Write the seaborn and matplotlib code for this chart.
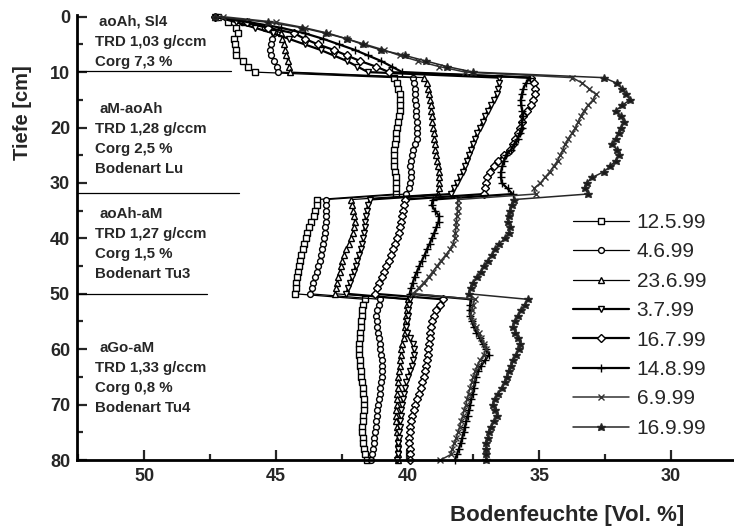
import numpy as np
import matplotlib.pyplot as plt
from matplotlib.ticker import MultipleLocator
import seaborn as sns

sns.set_style("white")
plt.rcParams['font.family'] = ['Liberation Sans', 'DejaVu Sans']

# depth in cm, one reading per cm
depth = list(range(81))

dates = ['12.5.99', '4.6.99', '23.6.99', '3.7.99', '16.7.99', '14.8.99', '6.9.99', '16.9.99']

# soil moisture [Vol. %], layers 0-10 / 11-32 / 33-50 / 51-80 cm
m_12_5 = ([47.2, 46.8, 46.5, 46.45, 46.6, 46.55, 46.5, 46.5, 46.25, 46.05, 45.8] +
          [40.5, 40.4, 40.35, 40.3, 40.27, 40.27, 40.3, 40.33, 40.37, 40.4, 40.42, 40.45, 40.48, 40.5, 40.5,
           40.5, 40.5, 40.47, 40.45, 40.43, 40.43, 40.43] +
          [43.43, 43.45, 43.5, 43.56, 43.65, 43.74, 43.8, 43.86, 43.92, 43.98, 44.04, 44.08, 44.13, 44.17,
           44.2, 44.22, 44.25, 44.28] +
          [41.63, 41.68, 41.71, 41.74, 41.76, 41.77, 41.79, 41.81, 41.83, 41.85, 41.84, 41.82, 41.8, 41.78,
           41.75, 41.73, 41.7, 41.68, 41.65, 41.65, 41.65, 41.67, 41.69, 41.71, 41.72, 41.7, 41.68, 41.64,
           41.6, 41.55])
m_4_6 = ([47.3, 46.3, 45.4, 45.05, 45.15, 45.2, 45.23, 45.2, 45.05, 44.95, 44.9] +
         [39.8, 39.76, 39.73, 39.71, 39.7, 39.68, 39.67, 39.66, 39.64, 39.62, 39.63, 39.65, 39.72, 39.8, 39.84,
          39.87, 39.89, 39.88, 39.86, 39.89, 39.94, 40.05] +
         [43.08, 43.08, 43.08, 43.1, 43.11, 43.13, 43.15, 43.18, 43.22, 43.25, 43.28, 43.33, 43.38, 43.44,
          43.5, 43.57, 43.64, 43.72] +
         [41.06, 41.1, 41.14, 41.18, 41.17, 41.14, 41.11, 41.08, 41.06, 41.04, 41.0, 40.98, 40.96, 40.96,
          40.98, 41.0, 41.03, 41.06, 41.09, 41.12, 41.14, 41.17, 41.19, 41.21, 41.24, 41.26, 41.29, 41.31,
          41.34, 41.38])
m_23_6 = ([47.3, 46.2, 45.2, 44.8, 44.75, 44.7, 44.65, 44.6, 44.55, 44.5, 44.45] +
          [39.36, 39.26, 39.21, 39.18, 39.15, 39.12, 39.1, 39.08, 39.05, 39.03, 39.0, 38.98, 38.96, 38.94,
           38.91, 38.88, 38.85, 38.82, 38.8, 38.79, 38.8, 38.85] +
          [42.13, 42.1, 42.07, 42.03, 42.01, 42.04, 42.08, 42.14, 42.22, 42.32, 42.4, 42.47, 42.53, 42.58,
           42.63, 42.67, 42.71, 42.74] +
          [39.99, 40.01, 40.03, 40.05, 40.07, 40.09, 40.11, 40.15, 40.2, 40.24, 40.26, 40.28, 40.3, 40.33,
           40.35, 40.37, 40.37, 40.38, 40.39, 40.4, 40.42, 40.43, 40.42, 40.4, 40.38, 40.37, 40.37, 40.37,
           40.37, 40.37])
m_3_7 = ([47.3, 46.5, 45.8, 45.1, 44.5, 43.9, 43.3, 42.8, 42.3, 41.9, 41.5] +
         [36.52, 36.53, 36.55, 36.6, 36.7, 36.82, 36.96, 37.06, 37.15, 37.25, 37.35, 37.45, 37.52, 37.6,
          37.67, 37.75, 37.82, 37.9, 38.0, 38.12, 38.24, 38.35] +
         [41.44, 41.5, 41.55, 41.58, 41.61, 41.63, 41.65, 41.68, 41.72, 41.78, 41.84, 41.9, 41.96, 42.03,
          42.1, 42.18, 42.26, 42.32] +
         [39.92, 39.95, 39.97, 39.99, 40.02, 40.05, 40.0, 39.9, 39.8, 39.76, 39.75, 39.78, 39.82, 39.9,
          39.98, 40.04, 40.09, 40.13, 40.17, 40.21, 40.24, 40.26, 40.28, 40.3, 40.32, 40.34, 40.36, 40.37,
          40.37, 40.38])
m_16_7 = ([47.3, 46.1, 45.3, 44.3, 43.9, 43.4, 42.8, 42.3, 41.8, 41.2, 40.7] +
          [35.3, 35.2, 35.15, 35.15, 35.25, 35.3, 35.45, 35.6, 35.66, 35.72, 35.82, 35.9, 36.0, 36.1, 36.35,
           36.55, 36.72, 36.88, 36.97, 37.0, 37.04, 37.08] +
          [40.11, 40.13, 40.16, 40.19, 40.23, 40.28, 40.33, 40.41, 40.49, 40.56, 40.64, 40.72, 40.8, 40.88,
           40.98, 41.08, 41.17, 41.25] +
          [38.66, 38.78, 38.9, 38.98, 39.05, 39.1, 39.13, 39.16, 39.18, 39.21, 39.23, 39.26, 39.29, 39.33,
           39.38, 39.43, 39.49, 39.55, 39.63, 39.7, 39.76, 39.82, 39.86, 39.89, 39.92, 39.93, 39.93, 39.92,
           39.91, 39.9])
m_14_8 = ([47.3, 46.0, 44.8, 43.9, 43.2, 42.6, 42.0, 41.5, 41.0, 40.6, 40.2] +
          [35.35, 35.5, 35.6, 35.66, 35.7, 35.68, 35.64, 35.63, 35.65, 35.66, 35.74, 35.82, 35.95, 36.07,
           36.26, 36.33, 36.4, 36.45, 36.45, 36.42, 36.2, 36.01] +
          [39.04, 39.08, 38.95, 38.8, 38.82, 38.9, 38.98, 39.08, 39.16, 39.26, 39.35, 39.45, 39.55, 39.64,
           39.73, 39.8, 39.86, 39.92] +
          [37.6, 37.62, 37.64, 37.62, 37.55, 37.48, 37.38, 37.25, 37.15, 37.0, 36.9, 37.05, 37.2, 37.32,
           37.4, 37.45, 37.48, 37.52, 37.58, 37.62, 37.67, 37.72, 37.77, 37.82, 37.87, 37.92, 37.98, 38.05,
           38.12, 38.2])
m_6_9 = ([47.0, 45.0, 43.9, 43.0, 42.3, 41.6, 40.9, 40.3, 39.6, 38.8, 37.8] +
         [33.74, 33.36, 33.1, 32.85, 32.95, 33.15, 33.3, 33.42, 33.52, 33.62, 33.75, 33.9, 34.0, 34.1, 34.2,
          34.3, 34.45, 34.6, 34.78, 34.95, 35.2, 35.13] +
         [38.09, 38.09, 38.1, 38.12, 38.14, 38.16, 38.18, 38.2, 38.27, 38.38, 38.55, 38.72, 38.88, 39.04,
          39.2, 39.38, 39.58, 39.8] +
         [37.45, 37.5, 37.55, 37.6, 37.5, 37.4, 37.3, 37.2, 37.08, 37.02, 37.1, 37.25, 37.35, 37.42, 37.5,
          37.56, 37.62, 37.68, 37.73, 37.78, 37.84, 37.9, 37.96, 38.02, 38.08, 38.15, 38.22, 38.3, 38.35,
          38.75])
m_16_9 = ([47.3, 45.3, 44.0, 43.1, 42.3, 41.7, 41.0, 40.1, 39.3, 38.5, 37.5] +
          [32.55, 32.05, 31.85, 31.7, 31.55, 31.85, 32.1, 31.9, 31.78, 31.88, 31.95, 32.1, 32.22, 32.05,
           31.97, 32.1, 32.3, 32.55, 32.98, 33.2, 33.25, 33.15] +
          [35.95, 36.02, 36.1, 36.16, 36.2, 36.1, 36.15, 36.3, 36.52, 36.66, 36.8, 36.94, 37.08, 37.22,
           37.35, 37.5, 37.6, 37.68] +
          [35.44, 35.55, 35.68, 35.8, 35.92, 36.0, 35.9, 35.8, 35.72, 35.75, 35.88, 35.98, 36.05, 36.15,
           36.22, 36.3, 36.42, 36.55, 36.68, 36.76, 36.68, 36.6, 36.7, 36.82, 36.9, 36.95, 37.0, 37.02,
           37.02, 37.02])
series = [m_12_5, m_4_6, m_23_6, m_3_7, m_16_7, m_14_8, m_6_9, m_16_9]

# horizon descriptions (left side) and horizon boundaries
horizon_text = [
    ['aoAh, Sl4', 'TRD 1,03 g/ccm', 'Corg 7,3 %'],
    ['aM-aoAh', 'TRD 1,28 g/ccm', 'Corg 2,5 %', 'Bodenart Lu'],
    ['aoAh-aM', 'TRD 1,27 g/ccm', 'Corg 1,5 %', 'Bodenart Tu3'],
    ['aGo-aM', 'TRD 1,33 g/ccm', 'Corg 0,8 %', 'Bodenart Tu4'],
]
horizon_top = [0.9, 16.6, 35.6, 59.8]
boundary_depth = [9.8, 31.8, 50.0]
boundary_end = [46.7, 46.4, 47.6]

styles = [
    dict(marker='s', ms=4.2, lw=0.9, color='black', mfc='white'),
    dict(marker='o', ms=4.2, lw=0.9, color='black', mfc='white'),
    dict(marker='^', ms=4.7, lw=0.9, color='black', mfc='white'),
    dict(marker='v', ms=4.7, lw=1.6, color='black', mfc='white'),
    dict(marker='D', ms=3.8, lw=1.6, color='black', mfc='white'),
    dict(marker='+', ms=6.0, lw=1.6, color='black', mfc='black'),
    dict(marker='x', ms=4.5, lw=1.1, color='#333333', mfc='#333333'),
    dict(marker='*', ms=6.2, lw=1.1, color='#262626', mfc='#1a1a1a'),
]

fig, ax = plt.subplots(figsize=(7.34, 5.27), dpi=100)
ax.set_position([0.1049, 0.1271, 0.8951, 0.8444])

for name, vals, st in zip(dates, series, styles):
    sns.lineplot(x=vals, y=depth, sort=False, estimator=None, ax=ax, label=name,
                 color=st['color'], lw=st['lw'], marker=st['marker'], ms=st['ms'],
                 markerfacecolor=st['mfc'], mec=st['color'], mew=1.0, clip_on=False)

for d, xe in zip(boundary_depth, boundary_end):
    ax.plot([52.55, xe], [d, d], color='black', lw=0.9)

row = 3.62
for lines, top in zip(horizon_text, horizon_top):
    for i, t in enumerate(lines):
        xl = 51.7 if i == 0 else 51.85
        ax.text(xl, top + i * row, t, fontsize=10.8, fontweight='bold', va='center', ha='left')

ax.set_xlim(52.55, 27.6)
ax.set_ylim(80, -0.3)
ax.xaxis.set_major_locator(MultipleLocator(5))
ax.xaxis.set_minor_locator(MultipleLocator(2.5))
ax.yaxis.set_major_locator(MultipleLocator(10))
ax.yaxis.set_minor_locator(MultipleLocator(5))
ax.tick_params(which='major', direction='in', length=7, width=1.6, labelsize=13)
ax.tick_params(which='minor', direction='in', length=4.5, width=1.6)
ax.tick_params(axis='x', which='both', bottom=True, pad=6)
ax.tick_params(axis='y', which='both', left=True, pad=5)
for lab in ax.get_xticklabels() + ax.get_yticklabels():
    lab.set_fontweight('bold')

sns.despine(ax=ax)
for s in ['left', 'bottom']:
    ax.spines[s].set_linewidth(2.0)
    ax.spines[s].set_color('black')

ax.set_xlabel('Bodenfeuchte [Vol. %]', fontsize=16, fontweight='bold')
ax.set_ylabel('Tiefe [cm]', fontsize=14.5, fontweight='bold')
ax.xaxis.set_label_coords(0.746, -0.1)
ax.yaxis.set_label_coords(-0.0685, 0.78)

ax.legend(loc='upper left', bbox_to_anchor=(573 / 734, 1 - 213 / 527), bbox_transform=fig.transFigure,
          frameon=False, fontsize=15, handlelength=2.7, handletextpad=0.35, labelspacing=0.5,
          borderpad=0, borderaxespad=0)

fig.savefig('out.png', dpi=100)
